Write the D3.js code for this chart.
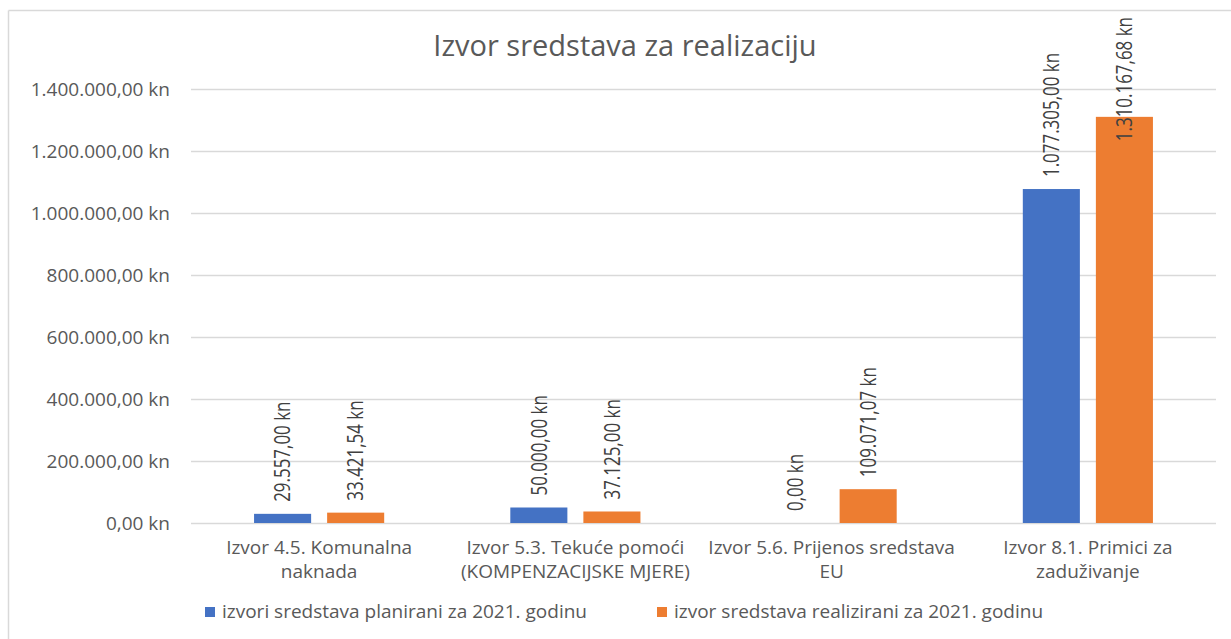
<!DOCTYPE html>
<html>
<head>
<meta charset="utf-8">
<script src="https://cdn.jsdelivr.net/npm/d3@7"></script>
<style>
  body { margin: 0; background: #fff; }
  svg text { fill: #595959; font-family: "Open Sans", "Noto Sans", sans-serif; }
  svg .data-label { fill: #404040; }
</style>
</head>
<body>
<svg id="chart" width="1231" height="639"></svg>
<script>
var categories = [
  ["Izvor 4.5. Komunalna", "naknada"],
  ["Izvor 5.3. Tekuće pomoći", "(KOMPENZACIJSKE MJERE)"],
  ["Izvor 5.6. Prijenos sredstava", "EU"],
  ["Izvor 8.1. Primici za", "zaduživanje"]
];
var seriesNames = [
  "izvori sredstava planirani za 2021. godinu",
  "izvor sredstava realizirani za 2021. godinu"
];
var planirani = [29557.00, 50000.00, 0.00, 1077305.00];
var realizirani = [33421.54, 37125.00, 109071.07, 1310167.68];
var yTicks = [0, 200000, 400000, 600000, 800000, 1000000, 1200000, 1400000];
var title = "Izvor sredstava za realizaciju";

(function() {
  var svg = d3.select("#chart");
  var colors = ["#4472C4", "#ED7D31"];
  var series = [planirani, realizirani];

  // Croatian number format: 1.234.567,89 kn
  var hr = d3.formatLocale({ decimal: ",", thousands: ".", grouping: [3], currency: ["", " kn"] });
  var fmt = function(v) { return hr.format(",.2f")(v) + " kn"; };

  var left = 191, right = 1216, top = 89, bottom = 523;

  var x0 = d3.scaleBand().domain(d3.range(categories.length)).range([left, right]);
  var x1 = d3.scaleBand().domain([0, 1]).range([0, x0.bandwidth()])
    .paddingInner(0.219).paddingOuter(0.863);
  var y = d3.scaleLinear().domain([0, 1400000]).range([bottom, top]);

  // Chart frame (only top and left edge visible)
  svg.append("line").attr("x1", 8.5).attr("y1", 10.5).attr("x2", 1231).attr("y2", 10.5)
    .attr("stroke", "#d9d9d9").attr("stroke-width", 1.5);
  svg.append("line").attr("x1", 8.5).attr("y1", 10.5).attr("x2", 8.5).attr("y2", 639)
    .attr("stroke", "#d9d9d9").attr("stroke-width", 1.5);

  // Title
  svg.append("text")
    .attr("x", 625).attr("y", 56)
    .attr("text-anchor", "middle")
    .attr("font-size", 29)
    .text(title);

  // Gridlines + y axis labels
  var yAxis = d3.axisLeft(y).tickValues(yTicks).tickSize(-(right - left)).tickFormat(fmt).tickPadding(21);
  var ga = svg.append("g").attr("transform", "translate(" + left + ",0)").call(yAxis);
  ga.select(".domain").remove();
  ga.selectAll(".tick line").attr("stroke", "#d9d9d9").attr("stroke-width", 1.5);
  ga.selectAll(".tick text").attr("font-size", 19).attr("fill", "#595959")
    .style("font-family", "\"Open Sans\", sans-serif");

  // Bars
  var groups = svg.append("g").selectAll("g").data(categories).enter()
    .append("g").attr("transform", function(d, i) { return "translate(" + x0(i) + ",0)"; });

  groups.selectAll("rect").data(function(d, i) { return series.map(function(s, j) { return { s: j, v: s[i] }; }); })
    .enter().append("rect")
    .attr("x", function(d) { return x1(d.s); })
    .attr("y", function(d) { return y(d.v); })
    .attr("width", x1.bandwidth())
    .attr("height", function(d) { return bottom - y(d.v); })
    .attr("fill", function(d) { return colors[d.s]; });

  // Data labels (rotated, condensed, pushed down if they would leave the chart)
  var squeeze = 0.77;
  groups.selectAll("text.data-label").data(function(d, i) { return series.map(function(s, j) { return { s: j, v: s[i] }; }); })
    .enter().append("text")
    .classed("data-label", true)
    .attr("font-size", 22)
    .attr("dy", "0.35em")
    .text(function(d) { return fmt(d.v); })
    .each(function(d) {
      var len = this.getComputedTextLength() * squeeze;
      var cx = x1(d.s) + x1.bandwidth() / 2;
      var base = Math.max(y(d.v) - 12, 17 + len);
      d3.select(this).attr("transform", "translate(" + cx + "," + base + ") rotate(-90) scale(" + squeeze + ",1)");
    });

  // Category labels
  var cl = svg.append("g").selectAll("text").data(categories).enter()
    .append("text")
    .attr("text-anchor", "middle")
    .attr("font-size", 19)
    .attr("transform", function(d, i) { return "translate(" + (x0(i) + x0.bandwidth() / 2) + ",554)"; });
  cl.selectAll("tspan").data(function(d) { return d; }).enter()
    .append("tspan")
    .attr("x", 0)
    .attr("y", function(d, i) { return i * 24; })
    .text(function(d) { return d; });

  // Legend
  var legendX = [205, 657];
  var lg = svg.append("g").selectAll("g").data(seriesNames).enter()
    .append("g").attr("transform", function(d, i) { return "translate(" + legendX[i] + ",607)"; });
  lg.append("rect").attr("width", 10).attr("height", 10).attr("fill", function(d, i) { return colors[i]; });
  lg.append("text").attr("x", 17).attr("y", 11).attr("font-size", 19).text(function(d) { return d; });
}());
</script>
</body>
</html>
